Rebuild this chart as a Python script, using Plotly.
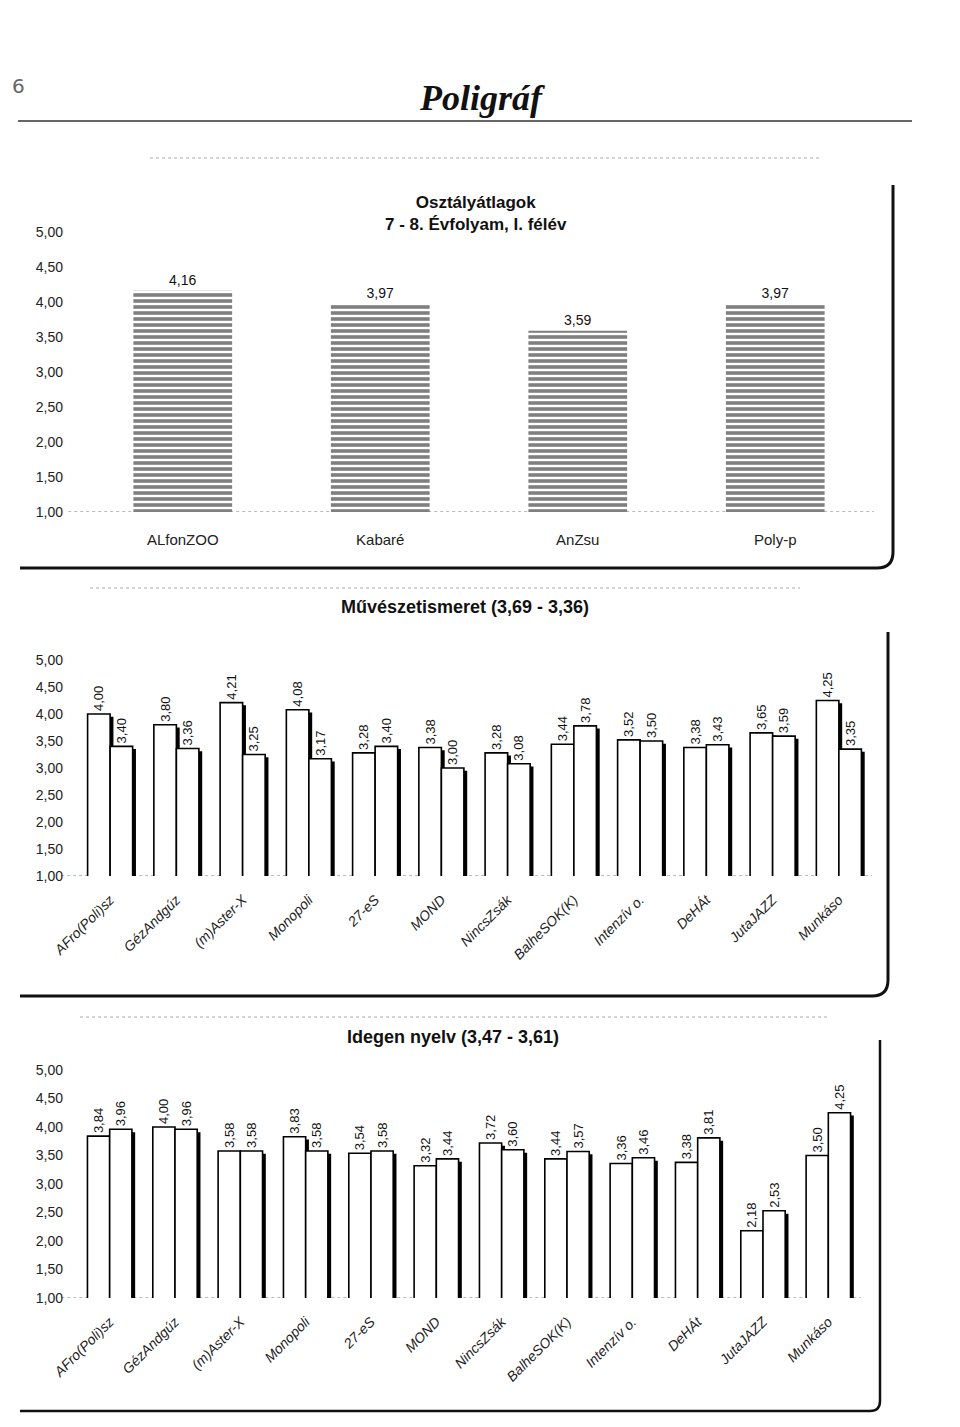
import plotly.graph_objects as go

# ---------------- data ----------------
avg_cats = ["ALfonZOO", "Kabaré", "AnZsu", "Poly-p"]
avg_vals = [4.16, 3.97, 3.59, 3.97]

class_cats = ["AFro(Poli)sz", "GézAndgúz", "(m)Aster-X", "Monopoli", "27-eS", "MOND",
              "NincsZsák", "BalheSOK(K)", "Intenzív o.", "DeHÁt", "JutaJAZZ", "Munkáso"]

art_a = [4.00, 3.80, 4.21, 4.08, 3.28, 3.38, 3.28, 3.44, 3.52, 3.38, 3.65, 4.25]
art_b = [3.40, 3.36, 3.25, 3.17, 3.40, 3.00, 3.08, 3.78, 3.50, 3.43, 3.59, 3.35]

lang_a = [3.84, 4.00, 3.58, 3.83, 3.54, 3.32, 3.72, 3.44, 3.36, 3.38, 2.18, 3.50]
lang_b = [3.96, 3.96, 3.58, 3.58, 3.58, 3.44, 3.60, 3.57, 3.46, 3.81, 2.53, 4.25]

y_ticks = [1.0, 1.5, 2.0, 2.5, 3.0, 3.5, 4.0, 4.5, 5.0]

title1 = "Osztályátlagok<br>7 - 8. Évfolyam, I. félév"
title2 = "Művészetismeret (3,69 - 3,36)"
title3 = "Idegen nyelv (3,47 - 3,61)"

# ---------------- helpers ----------------
W_PX, H_PX = 960, 1427
OFF = 8  # page body margin compensation
def X(px):
    return (px - OFF) / W_PX
def Y(py):
    return 1 - (py - OFF) / H_PX

FONT = "Liberation Sans Narrow, Arial Narrow, Liberation Sans, Arial, sans-serif"
BAR_W = 0.34
SHIFT = 0.05

fig = go.Figure()

# Chart 1 - striped bars
fig.add_trace(go.Bar(
    x=avg_cats, y=avg_vals, width=0.5, xaxis="x", yaxis="y",
    marker=dict(color="white", line=dict(width=0),
                pattern=dict(shape="-", fgcolor="black", bgcolor="white", size=6, solidity=0.6)),
    texttemplate="%{y:.2f}", textposition="outside", cliponaxis=False,
    textfont=dict(family=FONT, size=14, color="#111"), constraintext="none",
))

def paired(a, b, xa, ya):
    xs = list(range(len(a)))
    for vals, off in ((a, -BAR_W), (b, 0.0)):
        fig.add_trace(go.Bar(
            x=xs, y=[v - 0.05 for v in vals], width=BAR_W, offset=off + SHIFT,
            xaxis=xa, yaxis=ya, marker=dict(color="black", line=dict(width=0)),
            hoverinfo="skip"))
    for vals, off in ((a, -BAR_W), (b, 0.0)):
        fig.add_trace(go.Bar(
            x=xs, y=vals, width=BAR_W, offset=off, xaxis=xa, yaxis=ya,
            marker=dict(color="white", line=dict(color="black", width=1.6)),
            texttemplate="%{y:.2f}", textposition="outside", textangle=-90,
            cliponaxis=False, constraintext="none",
            textfont=dict(family=FONT, size=13, color="#111")))

paired(art_a, art_b, "x2", "y2")
paired(lang_a, lang_b, "x3", "y3")

yax_common = dict(range=[1, 5], tickvals=y_ticks, tickformat=".2f", showgrid=False,
                  zeroline=False, showline=False, ticks="", automargin=False,
                  tickfont=dict(family=FONT, size=14, color="#222"), fixedrange=True)
xax_pair = dict(range=[-0.5, 11.5], tickvals=list(range(len(class_cats))), ticktext=class_cats,
                tickangle=-45, showgrid=False, zeroline=False, showline=False, ticks="",
                automargin=False,
                tickfont=dict(family=FONT, size=14, color="#222", style="italic"),
                ticklabelstandoff=12)

fig.update_layout(
    width=W_PX, height=H_PX, autosize=False,
    margin=dict(l=0, r=0, t=0, b=0, pad=0, autoexpand=False),
    paper_bgcolor="white", plot_bgcolor="white", showlegend=False,
    separators=", ", barmode="overlay",
    xaxis=dict(domain=[X(84), X(874)], anchor="y", showgrid=False, zeroline=False,
               showline=False, ticks="", ticklabelstandoff=17, automargin=False,
               tickfont=dict(family=FONT, size=15, color="#222")),
    yaxis=dict(domain=[Y(512), Y(232)], anchor="x", ticklabelstandoff=20, **yax_common),
    xaxis2=dict(domain=[X(77), X(872)], anchor="y2", **xax_pair),
    yaxis2=dict(domain=[Y(876), Y(660)], anchor="x2", ticklabelstandoff=13, **yax_common),
    xaxis3=dict(domain=[X(77), X(861)], anchor="y3", **xax_pair),
    yaxis3=dict(domain=[Y(1298), Y(1070)], anchor="x3", ticklabelstandoff=13, **yax_common),
)

# baselines at 1,00
for xr, yr in (("x domain", "y"), ("x2 domain", "y2"), ("x3 domain", "y3")):
    fig.add_shape(type="line", xref=xr, yref=yr, x0=-0.02, x1=1.0, y0=1, y1=1,
                  line=dict(color="#777", width=1, dash="dot"), layer="below")

# titles and header texts
def note(text, px, py, size, family=FONT, color="#111", xanchor="center"):
    return dict(text=text, x=X(px), y=Y(py), xref="paper", yref="paper", showarrow=False,
                xanchor=xanchor, yanchor="middle",
                font=dict(family=family, size=size, color=color))

ann = [
    note("<b>" + title1.replace("<br>", "</b><br><b>") + "</b>", 476, 213, 17),
    note("<b>" + title2 + "</b>", 465, 607, 18),
    note("<b>" + title3 + "</b>", 453, 1037, 18),
    note("6", 10, 86, 20, family="DejaVu Sans", color="#666", xanchor="left"),
    note("<b><i>Poligráf</i></b>", 482, 98, 36, family="Liberation Serif, serif"),
]
fig.update_layout(annotations=ann)

fig.add_shape(type="line", xref="paper", yref="paper", x0=X(18), x1=X(912), y0=Y(121), y1=Y(121),
              line=dict(color="#333", width=1.5))

def frame(yb, xr, ytop, xl=20, rad=16, width=3):
    p = (f"M {X(xl)},{Y(yb)} L {X(xr - rad)},{Y(yb)} Q {X(xr)},{Y(yb)} {X(xr)},{Y(yb - rad)} "
         f"L {X(xr)},{Y(ytop)}")
    fig.add_shape(type="path", xref="paper", yref="paper", path=p,
                  line=dict(color="#111", width=width))

frame(568, 893, 185)
frame(996, 888, 632)
frame(1411, 880, 1040, rad=10, width=2.5)

for yy, x0, x1 in ((158, 150, 820), (588, 90, 800), (1017, 80, 830)):
    fig.add_shape(type="line", xref="paper", yref="paper", x0=X(x0), x1=X(x1), y0=Y(yy), y1=Y(yy),
                  line=dict(color="#aaa", width=1, dash="dot"))

fig.write_html("out.html")
